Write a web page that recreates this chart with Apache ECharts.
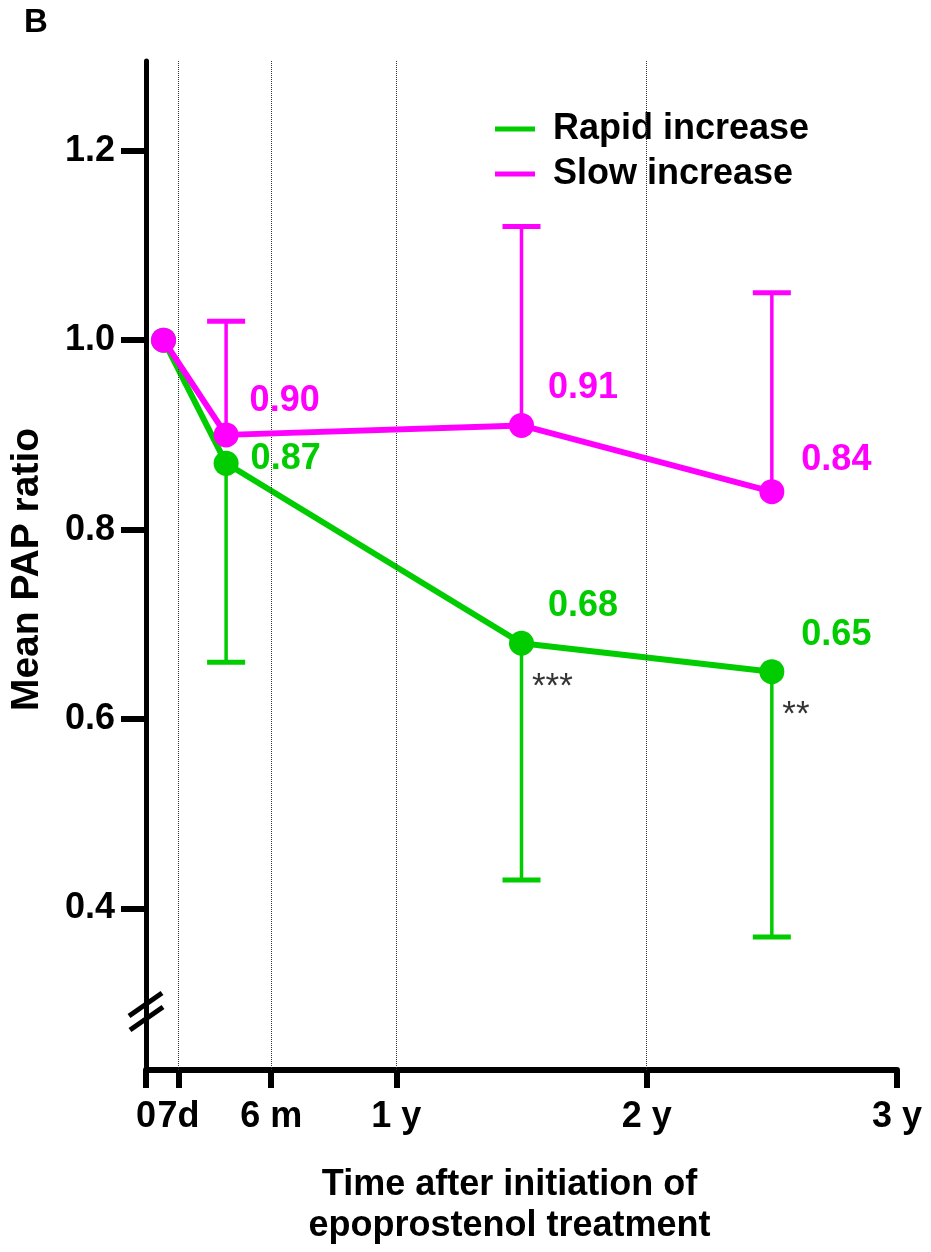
<!DOCTYPE html>
<html><head><meta charset="utf-8">
<script src="https://cdn.jsdelivr.net/npm/echarts@6/dist/echarts.min.js"></script>
<style>html,body{margin:0;padding:0;background:#fff}#c{width:931px;height:1252px}</style>
</head><body><div id="c"></div>
<script>
// ---- data ----
const xPositions   = [0.07, 0.32, 1.5, 2.5];          // time points (years, drawn positions)
const rapidMean    = [1.00, 0.87, 0.68, 0.65];
const slowMean     = [1.00, 0.90, 0.91, 0.84];
const rapidLower   = [null, 0.66, 0.43, 0.37];         // lower SD end
const slowUpper    = [null, 1.02, 1.12, 1.05];         // upper SD end
const rapidStars   = ['', '', '***', '**'];
const xTickValues  = [0, 0.13, 0.5, 1, 2, 3];
const xTickLabels  = ['0', '7d', '6 m', '1 y', '2 y', '3 y'];
const xGridValues  = [0.13, 0.5, 1, 2];
const yTickValues  = [0.4, 0.6, 0.8, 1.0, 1.2];
const seriesNames  = ['Rapid increase', 'Slow increase'];

// ---- styles ----
const GREEN = '#00CC00', MAGENTA = '#FF00FF';
const FONT = "'Liberation Sans', Arial, sans-serif";
const rapidLabelPos = [null, {d: 12, dy: -4}, {d: 14, dy: -37}, {d: 17, dy: -37}];
const slowLabelPos  = [null, {d: 11, dy: -34}, {d: 14, dy: -37}, {d: 17, dy: -32}];

function lineData(means, pos) {
  return means.map((m, i) => {
    const item = {value: [xPositions[i], m]};
    if (pos[i]) {
      item.label = {show: true, position: 'right', distance: pos[i].d, offset: [0, pos[i].dy]};
    }
    return item;
  });
}
function errData(means, ends) {
  const out = [];
  means.forEach((m, i) => { if (ends[i] != null) out.push([xPositions[i], m, ends[i]]); });
  return out;
}
function errRender(color) {
  return function (params, api) {
    const p0 = api.coord([api.value(0), api.value(1)]);
    const p1 = api.coord([api.value(0), api.value(2)]);
    return {type: 'group', children: [
      {type: 'line', shape: {x1: p0[0], y1: p0[1], x2: p1[0], y2: p1[1]}, style: {stroke: color, lineWidth: 3.5}},
      {type: 'line', shape: {x1: p1[0] - 19, y1: p1[1], x2: p1[0] + 19, y2: p1[1]}, style: {stroke: color, lineWidth: 5}}
    ]};
  };
}
const valueLabel = {
  show: false, fontFamily: FONT, fontSize: 36, fontWeight: 'bold',
  formatter: p => p.value[1].toFixed(2)
};

const chart = echarts.init(document.getElementById('c'), null, {renderer: 'canvas'});
chart.setOption({
  animation: false,
  backgroundColor: '#fff',
  textStyle: {fontFamily: FONT},
  grid: {left: 146, right: 34, top: 61, bottom: 179, containLabel: false},
  title: {text: 'B', left: 19, top: 1, padding: 5, textStyle: {fontFamily: FONT, fontSize: 33, fontWeight: 'bold', color: '#000'}},
  legend: {
    data: seriesNames, orient: 'vertical', left: 495, top: 111, padding: 0, icon: 'rect',
    itemWidth: 40, itemHeight: 5, itemGap: 9,
    textStyle: {fontFamily: FONT, fontSize: 36, fontWeight: 'bold', color: '#000', padding: [0, 0, 0, 13]}
  },
  xAxis: {
    type: 'value', min: 0, max: 3,
    name: 'Time after initiation of\nepoprostenol treatment', nameLocation: 'middle', nameGap: 95,
    nameTextStyle: {fontFamily: FONT, fontSize: 36, fontWeight: 'bold', color: '#000', lineHeight: 41,
      verticalAlign: 'top', padding: [0, 24, 0, 0]},
    axisLine: {show: true, lineStyle: {color: '#000', width: 6}},
    axisTick: {show: true, length: 18, lineStyle: {color: '#000', width: 6}, customValues: xTickValues},
    axisLabel: {fontFamily: FONT, fontSize: 36, fontWeight: 'bold', color: '#000', margin: 29,
      customValues: xTickValues, formatter: v => xTickLabels[xTickValues.indexOf(v)] ?? ''},
    splitLine: {show: false}
  },
  yAxis: {
    type: 'value', min: 0.2295, max: 1.2947,
    name: 'Mean PAP ratio', nameLocation: 'middle', nameGap: 99, nameRotate: 90,
    nameTextStyle: {fontFamily: FONT, fontSize: 39, fontWeight: 'bold', color: '#000', padding: [0, 8, 0, 0]},
    axisLine: {show: true, lineStyle: {color: '#000', width: 5}},
    axisTick: {show: true, length: 25, lineStyle: {color: '#000', width: 6}, customValues: yTickValues},
    axisLabel: {fontFamily: FONT, fontSize: 36, fontWeight: 'bold', color: '#000', margin: 31,
      customValues: yTickValues, formatter: v => v.toFixed(1)},
    splitLine: {show: false}
  },
  series: [
    {
      name: 'grid', type: 'line', data: [], z: 1, silent: true,
      markLine: {silent: true, symbol: ['none', 'none'], label: {show: false},
        lineStyle: {type: 'dotted', color: '#333', width: 1},
        data: xGridValues.map(v => ({xAxis: v}))}
    },
    {
      name: 'rapidErr', type: 'custom', renderItem: errRender(GREEN), data: errData(rapidMean, rapidLower), z: 3
    },
    {
      name: seriesNames[0], type: 'line', data: lineData(rapidMean, rapidLabelPos), z: 4,
      color: GREEN, symbol: 'circle', symbolSize: 25,
      lineStyle: {color: GREEN, width: 6}, itemStyle: {color: GREEN},
      label: Object.assign({}, valueLabel, {color: GREEN})
    },
    {
      name: 'slowErr', type: 'custom', renderItem: errRender(MAGENTA), data: errData(slowMean, slowUpper), z: 5
    },
    {
      name: seriesNames[1], type: 'line', data: lineData(slowMean, slowLabelPos), z: 6,
      color: MAGENTA, symbol: 'circle', symbolSize: 25,
      lineStyle: {color: MAGENTA, width: 6}, itemStyle: {color: MAGENTA},
      label: Object.assign({}, valueLabel, {color: MAGENTA})
    },
    {
      name: 'stars', type: 'scatter', z: 7, silent: true,
      symbol: 'circle', symbolSize: 1, itemStyle: {color: 'rgba(0,0,0,0)'},
      data: rapidStars.map((s, i) => s ? {value: [xPositions[i], rapidMean[i]], star: s} : null).filter(Boolean),
      label: {show: true, position: 'right', distance: 10, offset: [0, 44], fontFamily: FONT, fontSize: 35,
        color: '#000', formatter: p => p.data.star}
    }
  ]
});

// axis break marks on the y axis
const base = chart.convertToPixel({gridIndex: 0}, [0, 0.2295]);
const slashes = [[-17, -54, 16, -77], [-16, -40, 17, -63]];
chart.setOption({
  graphic: slashes.map(s => ({
    type: 'line', z: 10,
    shape: {x1: base[0] + s[0], y1: base[1] + s[1], x2: base[0] + s[2], y2: base[1] + s[3]},
    style: {stroke: '#000', lineWidth: 5}
  }))
});
</script>
</body></html>
